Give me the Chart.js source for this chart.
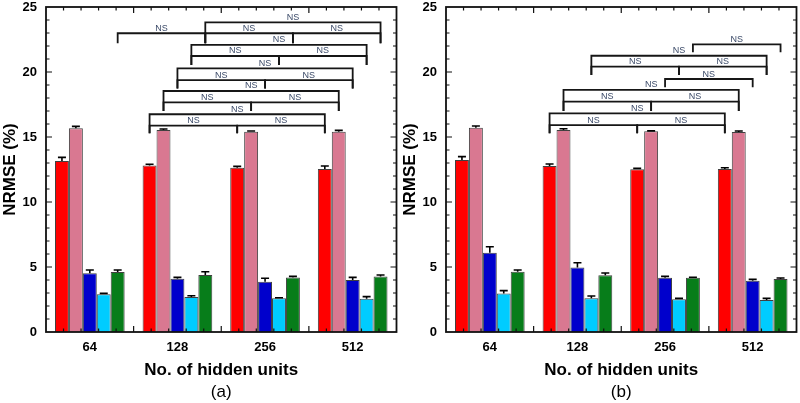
<!DOCTYPE html>
<html>
<head>
<meta charset="utf-8">
<script src="https://cdn.jsdelivr.net/npm/chart.js@4.4.0/dist/chart.umd.min.js"></script>
<style>
  html, body { margin: 0; padding: 0; background: #fff; }
  #wrap { position: relative; width: 800px; height: 403px; }
  canvas { position: absolute; top: 0; }
</style>
</head>
<body>
<div id="wrap">
  <canvas id="chartA" width="400" height="403" style="left:0"></canvas>
  <canvas id="chartB" width="400" height="403" style="left:400px"></canvas>
</div>
<script>
// categories
const hiddenUnits = ['64', '128', '256', '512'];
const yTicks = [0, 5, 10, 15, 20, 25];

// panel (a) values and upper error
const aRed   = [13.15, 12.80, 12.64, 12.54];
const aPink  = [15.67, 15.54, 15.41, 15.41];
const aBlue  = [4.51, 4.10, 3.87, 4.00];
const aCyan  = [2.90, 2.69, 2.59, 2.56];
const aGreen = [4.62, 4.38, 4.20, 4.26];
const aRedErr   = [0.28, 0.10, 0.10, 0.23];
const aPinkErr  = [0.15, 0.08, 0.05, 0.10];
const aBlueErr  = [0.26, 0.10, 0.26, 0.20];
const aCyanErr  = [0.07, 0.10, 0.05, 0.16];
const aGreenErr = [0.15, 0.26, 0.08, 0.12];

// panel (b)
const bRed   = [13.23, 12.77, 12.51, 12.54];
const bPink  = [15.72, 15.54, 15.44, 15.38];
const bBlue  = [6.10, 4.97, 4.18, 3.95];
const bCyan  = [2.97, 2.59, 2.51, 2.46];
const bGreen = [4.64, 4.36, 4.18, 4.08];
const bRedErr   = [0.26, 0.15, 0.08, 0.10];
const bPinkErr  = [0.13, 0.10, 0.03, 0.08];
const bBlueErr  = [0.46, 0.36, 0.10, 0.10];
const bCyanErr  = [0.21, 0.18, 0.08, 0.13];
const bGreenErr = [0.13, 0.18, 0.03, 0.07];

// significance brackets: [series, fromGroup, toGroup, line level, tick end level]
const aBrackets = [
  [0, 1, 3, 16.75, 15.28], [0, 1, 2, 15.87, 15.28], [0, 2, 3, 15.87, 15.28],
  [1, 1, 3, 18.54, 17.00], [1, 1, 2, 17.67, 17.00], [1, 2, 3, 17.67, 17.00],
  [2, 1, 3, 20.28, 18.74], [2, 1, 2, 19.38, 18.74], [2, 2, 3, 19.38, 18.74],
  [3, 1, 3, 22.08, 20.54], [3, 1, 2, 21.23, 20.54], [3, 2, 3, 21.23, 20.54],
  [4, 1, 3, 23.82, 22.22], [4, 0, 1, 22.98, 22.22], [4, 1, 2, 22.98, 22.22], [4, 2, 3, 22.98, 22.22]
];
const bBrackets = [
  [0, 1, 3, 16.82, 15.28], [0, 1, 2, 15.92, 15.28], [0, 2, 3, 15.92, 15.28],
  [1, 1, 3, 18.62, 17.00], [1, 1, 2, 17.72, 17.00], [1, 2, 3, 17.72, 17.00],
  [2, 2, 3, 19.46, 18.82],
  [3, 1, 3, 21.25, 19.77], [3, 1, 2, 20.41, 19.77], [3, 2, 3, 20.41, 19.77],
  [4, 2, 3, 22.13, 21.51]
];

const fills = ['#ff0000', '#d97891', '#0000cc', '#00ccff', '#077d1a'];
const FONT = "Arial, 'Liberation Sans', sans-serif";
Chart.defaults.font.family = FONT;

// frame, inward ticks, error bars, brackets and titles
const framePlugin = {
  id: 'framePlugin',
  afterDatasetsDraw(chart, args, opts) {
    const ctx = chart.ctx;
    const a = chart.chartArea;
    const y = chart.scales.y;

    ctx.save();
    // error bars (upper half only)
    ctx.strokeStyle = '#000';
    ctx.lineWidth = 1.6;
    chart.data.datasets.forEach(function(ds, di) {
      chart.getDatasetMeta(di).data.forEach(function(bar, i) {
        const top = y.getPixelForValue(ds.data[i] + ds.errors[i]);
        ctx.beginPath();
        ctx.moveTo(bar.x, bar.y);
        ctx.lineTo(bar.x, top);
        ctx.moveTo(bar.x - 4, top);
        ctx.lineTo(bar.x + 4, top);
        ctx.stroke();
      });
    });

    // brackets
    ctx.strokeStyle = '#161616';
    ctx.lineWidth = 1.8;
    ctx.font = '9px ' + FONT;
    ctx.fillStyle = '#3b4a68';
    ctx.textAlign = 'center';
    ctx.textBaseline = 'middle';
    opts.brackets.forEach(function(b) {
      const meta = chart.getDatasetMeta(b[0]);
      const x0 = meta.data[b[1]].x;
      const x1 = meta.data[b[2]].x;
      const yl = y.getPixelForValue(b[3]);
      const yb = y.getPixelForValue(b[4]);
      ctx.beginPath();
      ctx.moveTo(x0, yb);
      ctx.lineTo(x0, yl);
      ctx.lineTo(x1, yl);
      ctx.lineTo(x1, yb);
      ctx.stroke();
      ctx.fillText('NS', (x0 + x1) / 2, yl - 5);
    });

    // ticks
    ctx.strokeStyle = '#111';
    ctx.lineWidth = 1.2;
    ctx.beginPath();
    for (let v = 1; v < 25; v++) {
      const py = y.getPixelForValue(v);
      const len = v % 5 === 0 ? 6 : 3.5;
      ctx.moveTo(a.left, py); ctx.lineTo(a.left + len, py);
      ctx.moveTo(a.right, py); ctx.lineTo(a.right - len, py);
    }
    const step = (a.right - a.left) / hiddenUnits.length / 5;
    for (let k = 1; k < hiddenUnits.length * 5; k++) {
      const px = a.left + k * step;
      const len = k % 5 === 0 ? 6 : 3.5;
      ctx.moveTo(px, a.top); ctx.lineTo(px, a.top + len);
      ctx.moveTo(px, a.bottom); ctx.lineTo(px, a.bottom - len);
    }
    ctx.stroke();

    // frame
    ctx.lineWidth = 1.8;
    ctx.strokeStyle = '#111';
    ctx.strokeRect(a.left, a.top, a.right - a.left, a.bottom - a.top);

    // titles
    const cx = (a.left + a.right) / 2;
    ctx.fillStyle = '#000';
    ctx.textAlign = 'center';
    ctx.textBaseline = 'middle';
    ctx.font = 'bold 17px ' + FONT;
    ctx.fillText('No. of hidden units', cx, 370);
    ctx.font = '17px ' + FONT;
    ctx.fillText(opts.panel, cx, 392);
    ctx.translate(10, (a.top + a.bottom) / 2);
    ctx.rotate(-Math.PI / 2);
    ctx.font = 'bold 17px ' + FONT;
    ctx.fillText('NRMSE (%)', 0, 0);
    ctx.restore();
  }
};

function makeChart(id, values, errors, brackets, panel) {
  return new Chart(document.getElementById(id), {
    type: 'bar',
    data: {
      labels: hiddenUnits,
      datasets: values.map(function(v, i) {
        return {
          data: v,
          errors: errors[i],
          backgroundColor: fills[i],
          borderColor: 'rgba(0,0,0,0.75)',
          borderWidth: 1,
          categoryPercentage: 0.795,
          barPercentage: 1
        };
      })
    },
    options: {
      responsive: false,
      animation: false,
      layout: { padding: { top: 7, right: 3.5, left: 0, bottom: 0 } },
      plugins: {
        legend: { display: false },
        tooltip: { enabled: false },
        framePlugin: { brackets: brackets, panel: panel }
      },
      scales: {
        x: {
          grid: { display: false, drawTicks: false },
          border: { display: false },
          ticks: { color: '#000', font: { size: 13, weight: 'bold' }, padding: 8 },
          afterFit: function(s) { s.height = 71; s.paddingLeft = 0; s.paddingRight = 0; }
        },
        y: {
          min: 0,
          max: 25,
          grid: { display: false, drawTicks: false },
          border: { display: false },
          afterBuildTicks: function(s) { s.ticks = yTicks.map(function(v) { return { value: v }; }); },
          ticks: { color: '#000', font: { size: 13, weight: 'bold' }, padding: 9 },
          afterFit: function(s) { s.width = 46; s.paddingTop = 0; s.paddingBottom = 0; }
        }
      }
    },
    plugins: [framePlugin]
  });
}

makeChart('chartA',
  [aRed, aPink, aBlue, aCyan, aGreen],
  [aRedErr, aPinkErr, aBlueErr, aCyanErr, aGreenErr],
  aBrackets, '(a)');
makeChart('chartB',
  [bRed, bPink, bBlue, bCyan, bGreen],
  [bRedErr, bPinkErr, bBlueErr, bCyanErr, bGreenErr],
  bBrackets, '(b)');
</script>
</body>
</html>
